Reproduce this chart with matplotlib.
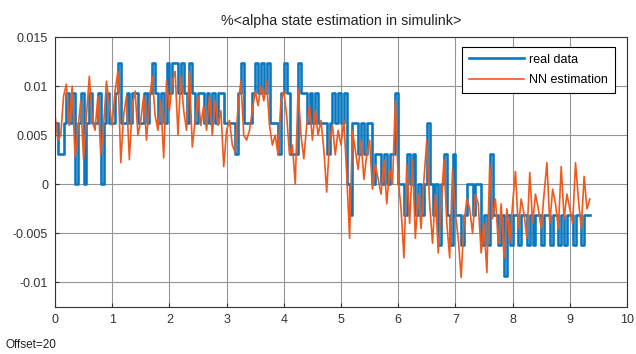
import matplotlib
matplotlib.use("Agg")
import matplotlib.pyplot as plt
import numpy as np

plt.rcParams['font.family'] = ['Liberation Sans', 'DejaVu Sans']

# sample step of the scope data (seconds)
dt = 0.05
step = 0.0031  # quantisation of the real signal

# real data, as quantisation levels (value = level * step), one row per second
real_lvl = [
    2, 1, 1, 2, 3, 2, 3, 0, 2, 3, 0, 2, 3, 2, 2, 3, 0, 2, 3, 2,
    2, 3, 4, 2, 2, 3, 2, 3, 3, 2, 2, 3, 2, 3, 4, 3, 2, 3, 2, 4,
    3, 4, 4, 3, 4, 3, 2, 4, 3, 2, 3, 3, 2, 3, 2, 3, 2, 3, 3, 2,
    2, 2, 2, 1, 3, 4, 2, 2, 2, 3, 4, 3, 4, 3, 4, 2, 2, 2, 1, 3,
    4, 3, 1, 1, 1, 4, 3, 3, 2, 3, 2, 3, 2, 2, 2, 1, 2, 3, 2, 3,
    2, 3, 0, -1, 2, 2, 1, 2, 1, 2, 2, 0, 1, 1, 0, 1, 0, 1, 1, 3,
    0, 0, -1, 1, 0, 1, -1, 0, -1, 0, 2, 0, -1, 0, -2, 0, 1, -1, -2, 1,
    -1, -1, -2, -1, 0, 0, -1, 0, 0, -2, -1, -2, 1, -1, -1, -2, -1, -3, -1, -2,
    -1, -1, -2, -1, -1, -2, -1, -2, -1, -1, -2, -1, -1, -2, -1, -1, -2, -1, -2, -1,
    -1, -2, -1, -1, -2, -1, -1, -1,
]

# NN estimation (x 1e-3)
nn_est = [
    7.0, 4.5, 5.0, 9.0, 10.2, 6.0, 10.0, 2.8, 5.5, 8.5, 2.5, 7.0, 11.0, 6.5, 5.5, 9.0, 3.0, 6.0, 10.5, 8.0,
    6.0, 9.5, 11.5, 2.2, 7.0, 9.0, 2.5, 8.0, 9.5, 5.0, 6.5, 9.0, 4.5, 8.5, 11.0, 7.0, 5.5, 8.5, 2.7, 10.5,
    7.5, 10.5, 11.5, 5.0, 11.0, 7.5, 5.5, 11.5, 3.8, 6.5, 9.0, 6.0, 8.0, 5.5, 9.0, 5.0, 8.5, 6.0, 7.5, 1.8,
    5.5, 6.5, 4.0, 3.2, 8.0, 10.5, 5.0, 4.5, 5.5, 7.5, 9.5, 8.0, 10.0, 8.5, 10.5, 6.0, 4.0, 5.0, 3.0, 8.5,
    9.5, 7.0, 3.0, 4.0, 0.0, 9.7, 5.0, 2.6, 6.0, 8.0, 4.5, 7.5, 5.0, 6.5, 3.5, -0.8, 4.5, 6.0, 3.0, 5.5,
    4.0, 6.5, 1.0, -5.5, 5.5, 3.5, 1.5, 4.5, 0.5, 3.0, 4.5, -0.5, 2.0, 0.5, -1.0, 2.5, -2.0, 1.5, 0.0, 8.5,
    0.5, -2.5, -7.5, 2.0, -4.0, 2.5, -5.5, -1.0, -4.5, 0.5, 4.5, -2.0, -6.0, -1.0, -7.0, -2.5, 2.5, -4.0, -7.5, 1.5,
    -3.0, -5.5, -9.5, -4.0, -1.5, -2.5, -5.0, -1.0, -2.0, -7.0, -4.0, -9.0, 2.0, -3.5, -1.5, -6.0, -2.0, -7.5, -2.5, -6.0,
    -2.0, 1.3, -4.5, -1.5, -3.0, -5.5, 1.2, -4.0, -1.0, -2.5, -4.5, -1.0, 2.2, -4.0, -0.5, -2.0, -4.5, 1.8, -3.5, -1.0,
    -2.5, -4.0, 2.2, -1.5, -4.5, 0.8, -2.5, -1.5,
]

yticks = [-0.01, -0.005, 0, 0.005, 0.01, 0.015]
ytick_labels = ['-0.01', '-0.005', '0', '0.005', '0.01', '0.015']

t = np.arange(len(real_lvl)) * dt
real = np.array(real_lvl) * step
est = np.array(nn_est) * 1e-3

fig = plt.figure(figsize=(6.36, 3.54), dpi=100)
ax = fig.add_axes([55 / 636, 1 - 307 / 354, 572 / 636, 270 / 354])

ax.plot(t, real, color='#0A78C0', lw=1.9, drawstyle='steps-post', label='real data')
ax.plot(t, est, color='#EE5A1E', lw=1.2, label='NN estimation')

ax.set_xlim(0, 10)
ax.set_ylim(-0.0125, 0.015)
ax.set_xticks(range(11))
ax.set_yticks(yticks)
ax.set_yticklabels(ytick_labels)
ax.tick_params(direction='in', length=3, labelsize=9, colors='#333333', pad=5)
ax.grid(True, color='#959595', lw=0.8)
for s in ax.spines.values():
    s.set_color('#333333')
    s.set_linewidth(0.8)

ax.set_title('%<alpha state estimation in simulink>', fontsize=10.3, color='#222222', pad=9)

leg = ax.legend(loc='upper right', bbox_to_anchor=(0.9785, 0.963), fontsize=9,
                handlelength=4.4, fancybox=False, framealpha=1, borderaxespad=0,
                borderpad=0.55, labelspacing=0.65, handletextpad=0.4)
leg.get_frame().set_edgecolor('black')
leg.get_frame().set_linewidth(0.8)

fig.text(5 / 636, 1 - 345 / 354, 'Offset=20', fontsize=8.5, color='#222222', va='center')

fig.savefig('out.png', dpi=100)
